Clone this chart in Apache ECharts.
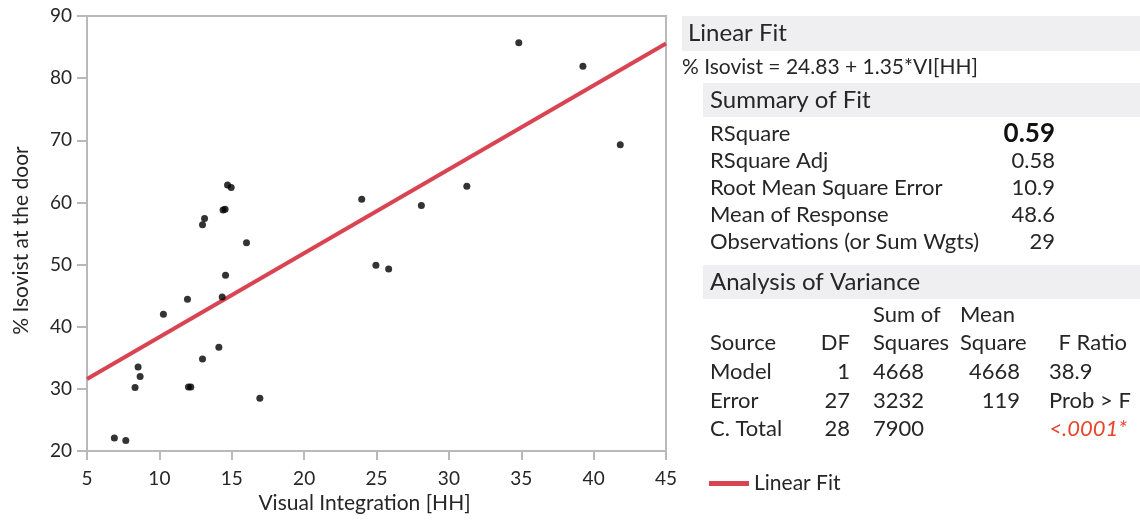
<!DOCTYPE html>
<html><head><meta charset="utf-8">
<script src="https://cdn.jsdelivr.net/npm/echarts@6/dist/echarts.min.js"></script>
<style>html,body{margin:0;padding:0;background:#fff}#c{width:1140px;height:521px}</style>
</head><body><div id="c"></div>
<script>
// ---- data ----
const visualIntegration = [12.98,13.12,14.71,14.96,14.54,14.40,16.02,34.83,39.26,41.84,23.98,28.10,31.24,14.57,14.34,11.94,10.28,14.11,12.98,8.53,8.67,8.32,12.01,12.17,16.94,6.89,7.68,24.96,25.84];
const isovistDoor       = [56.4,57.4,62.8,62.4,58.9,58.8,53.5,85.7,81.9,69.3,60.5,59.5,62.6,48.3,44.8,44.4,42.0,36.7,34.8,33.5,32.0,30.2,30.3,30.3,28.5,22.1,21.7,49.9,49.3];
const fitX = [5, 45];
const fitY = [31.58, 85.58];
const xTicks = [5,10,15,20,25,30,35,40,45];
const yTicks = [20,30,40,50,60,70,80,90];
const fitEquation = '% Isovist = 24.83 + 1.35*VI[HH]';
const summaryLabels = ['RSquare','RSquare Adj','Root Mean Square Error','Mean of Response','Observations (or Sum Wgts)'];
const summaryValues = ['0.59','0.58','10.9','48.6','29'];
const anovaSource = ['Model','Error','C. Total'];
const anovaDF = ['1','27','28'];
const anovaSS = ['4668','3232','7900'];
const anovaMS = ['4668','119',''];
const anovaF = ['38.9','Prob > F','<.0001*'];

const FONT = 'Lato, "Open Sans", sans-serif';
const TXT = '#262626';
const RED = '#d94452';

const g = [];
function band(x,y,w,h){ g.push({type:'rect',shape:{x:x,y:y,width:w,height:h},style:{fill:'#efeff1'},z:1}); }
function txt(s,x,y,opts){ opts=opts||{}; g.push({type:'text',z:2,style:{text:s,x:x,y:y,textAlign:opts.align||'left',textVerticalAlign:'middle',font:(opts.style||'normal')+' '+(opts.weight||'normal')+' '+(opts.size||22)+'px '+FONT,fill:opts.color||TXT}}); }

band(682,16,458,35); txt('Linear Fit',688,33,{size:24});
txt(fitEquation,682,67,{size:21});
band(703,83,437,34); txt('Summary of Fit',710,100,{size:24});
const rowY=[134,161,188,215,242];
summaryLabels.forEach((l,i)=>{ txt(l,710,rowY[i]); txt(summaryValues[i],1055,rowY[i],i===0?{align:'right',weight:'bold',size:26,color:'#111'}:{align:'right'}); });
band(703,265,437,34); txt('Analysis of Variance',710,282,{size:24});
txt('Sum of',873,315); txt('Mean',960,315);
txt('Source',710,343); txt('DF',850,343,{align:'right'}); txt('Squares',873,343); txt('Square',960,343); txt('F Ratio',1127,343,{align:'right'});
const aY=[372,401,429];
anovaSource.forEach((s,i)=>{
  txt(s,710,aY[i]); txt(anovaDF[i],850,aY[i],{align:'right'}); txt(anovaSS[i],873,aY[i]);
  if(anovaMS[i]) txt(anovaMS[i],1020,aY[i],{align:'right'});
  if(i===2) txt(anovaF[i],1127,aY[i],{align:'right',style:'italic',color:'#e8452c'});
  else txt(anovaF[i],1049,aY[i]);
});

const chart = echarts.init(document.getElementById('c'));
chart.setOption({
  animation:false,
  textStyle:{fontFamily:FONT},
  grid:{left:87,right:474,top:16,bottom:70,show:true,borderColor:'#b9b9b9',borderWidth:2,backgroundColor:'#fff'},
  legend:{left:704,top:468,itemWidth:40,itemHeight:5,itemGap:6,icon:'rect',data:['Linear Fit'],textStyle:{fontSize:21,color:TXT,fontFamily:FONT}},
  xAxis:{type:'value',min:xTicks[0],max:xTicks[xTicks.length-1],interval:5,
    name:'Visual Integration [HH]',nameLocation:'middle',nameGap:42,nameTextStyle:{fontSize:21,color:TXT,padding:[0,24,0,0]},
    axisLine:{show:true,lineStyle:{color:'#b9b9b9',width:2}},axisTick:{show:true,length:9,lineStyle:{color:'#b9b9b9',width:2}},
    axisLabel:{fontSize:19,color:TXT,margin:18},splitLine:{show:false}},
  yAxis:{type:'value',min:yTicks[0],max:yTicks[yTicks.length-1],interval:10,
    name:'% Isovist at the door',nameLocation:'middle',nameGap:55,nameTextStyle:{fontSize:21,color:TXT,padding:[0,14,0,0]},
    axisLine:{show:true,lineStyle:{color:'#b9b9b9',width:2}},axisTick:{show:true,length:10,lineStyle:{color:'#b9b9b9',width:2}},
    axisLabel:{fontSize:19,color:TXT,margin:15},splitLine:{show:false}},
  series:[
    {name:'Linear Fit',type:'line',data:fitX.map((x,i)=>[x,fitY[i]]),showSymbol:false,lineStyle:{color:RED,width:4},itemStyle:{color:RED},z:2},
    {name:'points',type:'scatter',data:visualIntegration.map((x,i)=>[x,isovistDoor[i]]),symbolSize:7,itemStyle:{color:'#000'},z:3}
  ],
  graphic:g
});
</script></body></html>
